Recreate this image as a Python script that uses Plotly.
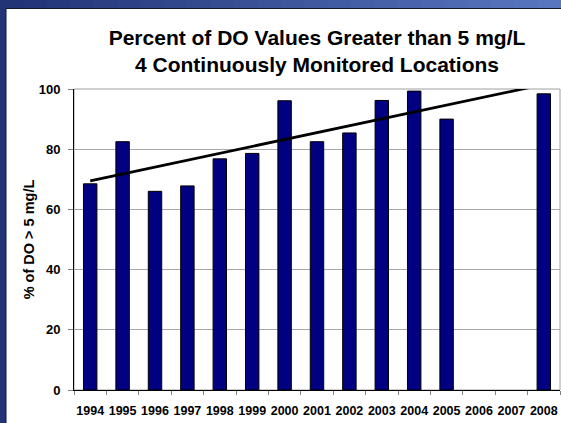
import plotly.graph_objects as go

years = ["1994", "1995", "1996", "1997", "1998", "1999", "2000", "2001",
         "2002", "2003", "2004", "2005", "2006", "2007", "2008"]
pct_do = [68.5, 82.5, 66.0, 67.8, 76.8, 78.6, 96.1, 82.5,
          85.4, 96.2, 99.3, 90.0, None, None, 98.4]
trend_years = ["1994", "2008"]
trend_values = [69.5, 101.5]
y_ticks = [0, 20, 40, 60, 80, 100]

FONT = "Liberation Sans, Arial, Helvetica, sans-serif"
W, H = 561, 423
L, R, T, B = 74, 1, 89, 33
pw, ph = W - L - R, H - T - B


def px(x):
    return (x - L) / pw


def py(y):
    return (H - B - y) / ph


fig = go.Figure()
fig.add_trace(go.Bar(
    x=years, y=pct_do,
    marker=dict(color="#000080", line=dict(color="#000000", width=1)),
    showlegend=False, hoverinfo="x+y",
))
fig.add_trace(go.Scatter(
    x=trend_years, y=trend_values, mode="lines",
    line=dict(color="#000000", width=2.8),
    showlegend=False, hoverinfo="skip",
))

shapes = []
# gradient top band of the frame
n = 24
c0 = (34, 52, 118)
c1 = (88, 118, 192)
for i in range(n):
    t = i / (n - 1)
    col = "rgb(%d,%d,%d)" % tuple(int(a + (b - a) * t) for a, b in zip(c0, c1))
    shapes.append(dict(type="rect", xref="paper", yref="paper", layer="below",
                       x0=px(W * i / n), x1=px(W * (i + 1) / n + 1),
                       y0=py(9), y1=py(-2), fillcolor=col, line=dict(width=0)))
# white panel
shapes.append(dict(type="rect", xref="paper", yref="paper", layer="below",
                   x0=px(6), x1=px(W + 2), y0=py(H + 2), y1=py(8.5),
                   fillcolor="white", line=dict(color="#101830", width=1)))
# plot area border (grey)
shapes.append(dict(type="rect", xref="paper", yref="paper", layer="below",
                   x0=0, x1=1, y0=0, y1=1,
                   fillcolor="rgba(0,0,0,0)", line=dict(color="#a0a0a0", width=1)))

fig.update_layout(
    width=W, height=H,
    margin=dict(l=L, r=R, t=T, b=B, pad=0, autoexpand=False),
    paper_bgcolor="rgb(34,52,118)",
    plot_bgcolor="rgba(0,0,0,0)",
    bargap=0.585,
    shapes=shapes,
    title=dict(
        text="Percent of DO Values Greater than 5 mg/L<br>4 Continuously Monitored Locations",
        font=dict(family=FONT, size=21, color="#000000", weight="bold"),
        x=(L + W - R) / 2 / W, xanchor="center",
        y=1 - 45 / H, yanchor="top", yref="container",
    ),
    xaxis=dict(
        type="category", categoryorder="array", categoryarray=years,
        tickson="boundaries", ticks="outside", ticklen=4, tickcolor="#808080",
        showline=True, linecolor="#000000", linewidth=1,
        showgrid=False, tickangle=0, automargin=False, ticklabelstandoff=9,
        tickfont=dict(family=FONT, size=12.5, color="#000000", weight="bold"),
    ),
    yaxis=dict(
        range=[0, 100], tickvals=y_ticks, automargin=False,
        ticks="outside", ticklen=5, tickcolor="#808080", ticklabelstandoff=5,
        showline=True, linecolor="#000000", linewidth=1,
        showgrid=True, gridcolor="#a8a8a8", gridwidth=1, zeroline=False,
        tickfont=dict(family=FONT, size=13, color="#000000", weight="bold"),
        title=dict(text="% of DO > 5 mg/L", standoff=0,
                   font=dict(family=FONT, size=14.5, color="#000000", weight="bold")),
    ),
)

fig.write_html("out.html", config={"displayModeBar": False},
               post_script="document.body.style.margin='0px';")
